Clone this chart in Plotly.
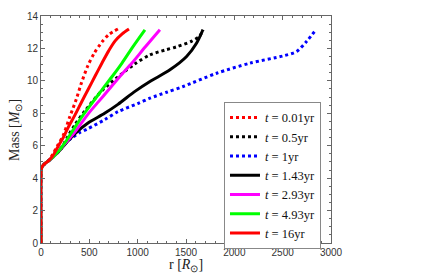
import plotly.graph_objects as go

labels = ["0.01yr", "0.5yr", "1yr", "1.43yr", "2.93yr", "4.93yr", "16yr"]
colors = ["#ff0000", "#000000", "#0000ff", "#000000", "#ff00ff", "#00ff00", "#ff0000"]
dashes = ["dot", "dot", "dot", "solid", "solid", "solid", "solid"]
x_title = "r [<i>R</i><sub>⊙</sub>]"
y_title = "Mass [<i>M</i><sub>⊙</sub>]"

base_r = [0, 0, 5, 20, 40, 80]
base_m = [0, 4.4, 4.6, 4.78, 4.9, 5.08]

r_001 = [120, 170, 227, 296, 364, 420, 486, 550, 631, 700, 796]
m_001 = [5.45, 6.0, 6.6, 7.75, 8.85, 9.9, 10.95, 11.7, 12.4, 12.85, 13.2]

r_05 = [124, 200, 280, 352, 455, 631, 838, 972, 1127, 1282, 1403, 1560, 1640, 1675]
m_05 = [5.3, 5.75, 6.6, 7.3, 8.15, 9.4, 10.45, 11.05, 11.6, 11.9, 12.1, 12.45, 12.75, 13.15]

r_1 = [124, 210, 314, 400, 486, 658, 796, 1000, 1127, 1300, 1470, 1817, 2161, 2505, 2644, 2747, 2844]
m_1 = [5.3, 5.9, 6.46, 6.8, 7.05, 7.6, 8.1, 8.6, 8.93, 9.3, 9.65, 10.47, 11.09, 11.54, 11.81, 12.43, 13.15]

r_143 = [124, 200, 280, 352, 486, 658, 796, 972, 1127, 1334, 1506, 1610, 1675]
m_143 = [5.3, 5.75, 6.3, 6.75, 7.4, 8.0, 8.55, 9.35, 9.96, 10.68, 11.5, 12.33, 13.15]

r_293 = [124, 200, 280, 352, 486, 600, 693, 820, 941, 1080, 1230]
m_293 = [5.3, 5.8, 6.35, 6.85, 7.95, 8.75, 9.4, 10.3, 11.1, 12.1, 13.15]

r_493 = [124, 180, 250, 320, 424, 530, 631, 740, 838, 950, 1075]
m_493 = [5.3, 5.65, 6.2, 6.85, 7.8, 8.65, 9.45, 10.3, 11.1, 12.1, 13.15]

r_16 = [124, 176, 230, 279, 352, 420, 486, 560, 631, 700, 765, 840, 910]
m_16 = [5.4, 5.95, 6.5, 7.1, 7.9, 8.7, 9.45, 10.3, 11.1, 11.85, 12.45, 12.9, 13.2]

series_r = [r_001, r_05, r_1, r_143, r_293, r_493, r_16]
series_m = [m_001, m_05, m_1, m_143, m_293, m_493, m_16]

fig = go.Figure()
for lab, col, dsh, rr, mm in zip(labels, colors, dashes, series_r, series_m):
    fig.add_trace(go.Scatter(
        x=base_r + rr, y=base_m + mm, mode="lines",
        line=dict(color=col, width=3, dash=dsh, shape="spline", smoothing=0.8),
        name=f"<i>t</i> = {lab}",
    ))

axis_common = dict(
    showline=True, linecolor="#666666", linewidth=1, mirror="allticks",
    ticks="inside", ticklen=4, tickcolor="#666666",
    showgrid=False, zeroline=False, automargin=False,
    tickfont=dict(family="Liberation Sans, Arial", size=10, color="#333333"),
)
title_font = dict(family="Liberation Serif, Times New Roman", size=14, color="#222222")

# page body has an 8px margin, so the figure is offset by 8px inside the window
fig.update_layout(
    width=428, height=267,
    margin=dict(l=33, r=105, t=8, b=32),
    paper_bgcolor="white", plot_bgcolor="white",
    xaxis=dict(range=[0, 3000], tickvals=[0, 500, 1000, 1500, 2000, 2500, 3000],
               minor=dict(ticks="inside", dtick=100, ticklen=2, tickcolor="#666666"),
               **axis_common),
    yaxis=dict(range=[0, 14], tickvals=[0, 2, 4, 6, 8, 10, 12, 14],
               minor=dict(ticks="inside", dtick=0.5, ticklen=2, tickcolor="#666666"),
               **axis_common),
    legend=dict(x=0.631, y=0.622, xanchor="left", yanchor="top",
                bordercolor="#888888", borderwidth=1, bgcolor="white",
                font=dict(family="Liberation Serif, Times New Roman", size=12.5, color="#111111"),
                tracegroupgap=0, itemwidth=30),
    showlegend=True,
    annotations=[
        dict(text=x_title, xref="paper", yref="paper", x=0.5, y=-0.097,
             xanchor="center", yanchor="middle", showarrow=False, font=title_font),
        dict(text=y_title, xref="paper", yref="paper", x=-0.088, y=0.5,
             xanchor="center", yanchor="middle", textangle=-90, showarrow=False, font=title_font),
    ],
)

fig.write_html("out.html")
